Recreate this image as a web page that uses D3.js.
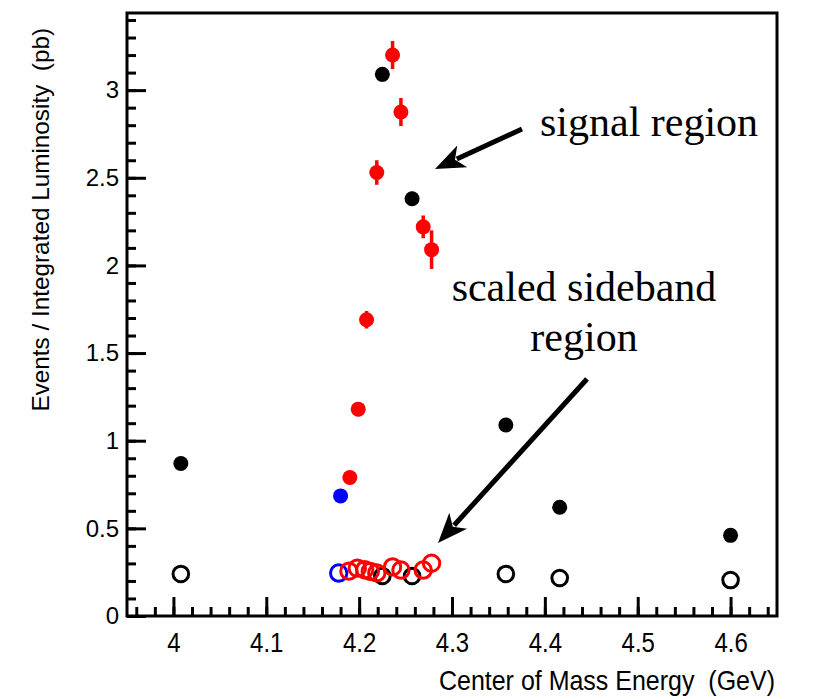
<!DOCTYPE html>
<html>
<head>
<meta charset="utf-8">
<script src="https://cdn.jsdelivr.net/npm/d3@7"></script>
<style>
  html, body { margin: 0; padding: 0; background: #fff; }
  svg text { font-family: "Liberation Sans", Arial, Helvetica, sans-serif; }
  .note { font-family: "Liberation Serif", "Times New Roman", serif; font-size: 42px; }
</style>
</head>
<body>
<svg id="chart" width="821" height="699"></svg>
<script>
(function(){

const WIDTH = 821, HEIGHT = 699;
const box = {left: 127, right: 777, top: 13, bottom: 616};

// signal region (filled markers)
const blackX   = [4.008, 4.225, 4.257, 4.358, 4.416, 4.600];
const blackY   = [0.87, 3.09, 2.38, 1.09, 0.62, 0.46];
const blackErr = [0.03, 0.04, 0.04, 0.03, 0.02, 0.02];
const redX     = [4.190, 4.199, 4.208, 4.219, 4.236, 4.245, 4.269, 4.278];
const redY     = [0.79, 1.18, 1.69, 2.53, 3.20, 2.875, 2.22, 2.09];
const redErr   = [0.02, 0.04, 0.05, 0.07, 0.08, 0.08, 0.065, 0.11];
const blueX    = [4.180];
const blueY    = [0.685];

// scaled sideband region (open markers)
const sbBlackX = [4.008, 4.225, 4.257, 4.358, 4.416, 4.600];
const sbBlackY = [0.24, 0.228, 0.228, 0.24, 0.217, 0.205];
const sbBlueX  = [4.178];
const sbBlueY  = [0.245];
const sbRedX   = [4.189, 4.198, 4.206, 4.212, 4.219, 4.236, 4.245, 4.269, 4.278];
const sbRedY   = [0.256, 0.273, 0.264, 0.254, 0.246, 0.28, 0.262, 0.262, 0.301];

const xTicks = [4, 4.1, 4.2, 4.3, 4.4, 4.5, 4.6];
const yTicks = [0, 0.5, 1, 1.5, 2, 2.5, 3];

const x = d3.scaleLinear().domain([3.95, 4.65]).range([box.left, box.right]);
const y = d3.scaleLinear().domain([0, 3.44]).range([box.bottom, box.top]);

const svg = d3.select('#chart');

const zip = (xs, ys, es) => xs.map((v, i) => ({x: v, y: ys[i], e: es ? es[i] : 0}));

// minor ticks
const xMinor = d3.range(3.96, 4.649, 0.02);
const yMinor = d3.range(0.1, 3.44, 0.1);

svg.append('g')
  .attr('transform', `translate(0,${box.bottom})`)
  .call(d3.axisBottom(x).tickValues(xMinor).tickSize(-9).tickFormat(''))
  .call(g => g.select('.domain').remove())
  .call(g => g.selectAll('line').attr('stroke-width', 3));

svg.append('g')
  .attr('transform', `translate(${box.left},0)`)
  .call(d3.axisLeft(y).tickValues(yMinor).tickSize(-9).tickFormat(''))
  .call(g => g.select('.domain').remove())
  .call(g => g.selectAll('line').attr('stroke-width', 3));

// major ticks + labels (ROOT's Helvetica looks a bit taller, so stretch glyphs vertically)
svg.append('g')
  .attr('transform', `translate(0,${box.bottom})`)
  .call(d3.axisBottom(x).tickValues(xTicks).tickSize(-19).tickPadding(18).tickFormat(d3.format('')))
  .call(g => g.select('.domain').remove())
  .call(g => g.selectAll('line').attr('stroke-width', 3))
  .call(g => g.selectAll('text')
    .attr('font-size', 24).attr('font-family', '"Liberation Sans", Arial, sans-serif').attr('fill', '#000')
    .attr('transform', 'translate(0,-3) scale(1,1.12)'));

svg.append('g')
  .attr('transform', `translate(${box.left},0)`)
  .call(d3.axisLeft(y).tickValues(yTicks).tickSize(-19).tickPadding(8).tickFormat(d3.format('')))
  .call(g => g.select('.domain').remove())
  .call(g => g.selectAll('line').attr('stroke-width', 3))
  .call(g => g.selectAll('text')
    .attr('font-size', 24).attr('font-family', '"Liberation Sans", Arial, sans-serif').attr('fill', '#000'));

// frame
svg.append('rect')
  .attr('x', box.left).attr('y', box.top)
  .attr('width', box.right - box.left).attr('height', box.bottom - box.top)
  .attr('fill', 'none').attr('stroke', '#000').attr('stroke-width', 3);

// axis titles
svg.append('text')
  .attr('transform', 'translate(775,690) scale(1,1.1)')
  .attr('text-anchor', 'end')
  .attr('font-size', 25)
  .attr('xml:space', 'preserve')
  .text('Center of Mass Energy  (GeV)');

svg.append('text')
  .attr('transform', 'translate(49,28) rotate(-90)')
  .attr('text-anchor', 'end')
  .attr('font-size', 24.3)
  .attr('xml:space', 'preserve')
  .text('Events / Integrated Luminosity  (pb)');

// open markers
function openPts(data, color, r){
  svg.append('g').selectAll('circle')
    .data(data).join('circle')
    .attr('cx', d => x(d.x)).attr('cy', d => y(d.y))
    .attr('r', r)
    .attr('fill', 'none').attr('stroke', color).attr('stroke-width', 3);
}
openPts(zip(sbBlackX, sbBlackY), '#000', 7.8);
openPts(zip(sbBlueX, sbBlueY), '#0000ff', 8.2);
openPts(zip(sbRedX, sbRedY), '#ff0000', 8.2);

// filled markers with error bars
function filledPts(data, color){
  const g = svg.append('g');
  g.selectAll('line')
    .data(data).join('line')
    .attr('x1', d => x(d.x)).attr('x2', d => x(d.x))
    .attr('y1', d => y(d.y - d.e)).attr('y2', d => y(d.y + d.e))
    .attr('stroke', color).attr('stroke-width', 3.5);
  g.selectAll('circle')
    .data(data).join('circle')
    .attr('cx', d => x(d.x)).attr('cy', d => y(d.y))
    .attr('r', 7.5)
    .attr('fill', color);
}
filledPts(zip(blackX, blackY, blackErr), '#000');
filledPts(zip(blueX, blueY), '#0000ff');
filledPts(zip(redX, redY, redErr), '#ff0000');

// annotations
function arrow(x0, y0, x1, y1){
  const ang = Math.atan2(y1 - y0, x1 - x0);
  const len = 30, half = 12;
  const bx = x1 - len * Math.cos(ang), by = y1 - len * Math.sin(ang);
  const px = -Math.sin(ang) * half, py = Math.cos(ang) * half;
  svg.append('line')
    .attr('x1', x0).attr('y1', y0)
    .attr('x2', bx + 6 * Math.cos(ang)).attr('y2', by + 6 * Math.sin(ang))
    .attr('stroke', '#000').attr('stroke-width', 5);
  svg.append('path')
    .attr('d', `M${x1},${y1}L${bx + px},${by + py}L${bx + 8 * Math.cos(ang)},${by + 8 * Math.sin(ang)}L${bx - px},${by - py}Z`)
    .attr('fill', '#000');
}
arrow(522, 129, 435, 169);
arrow(587, 379, 438, 543);

svg.append('text').attr('class', 'note')
  .attr('x', 540).attr('y', 136)
  .text('signal region');
svg.append('text').attr('class', 'note')
  .attr('x', 584).attr('y', 301).attr('text-anchor', 'middle')
  .text('scaled sideband');
svg.append('text').attr('class', 'note')
  .attr('x', 584).attr('y', 351).attr('text-anchor', 'middle')
  .text('region');

})();
</script>
</body>
</html>
